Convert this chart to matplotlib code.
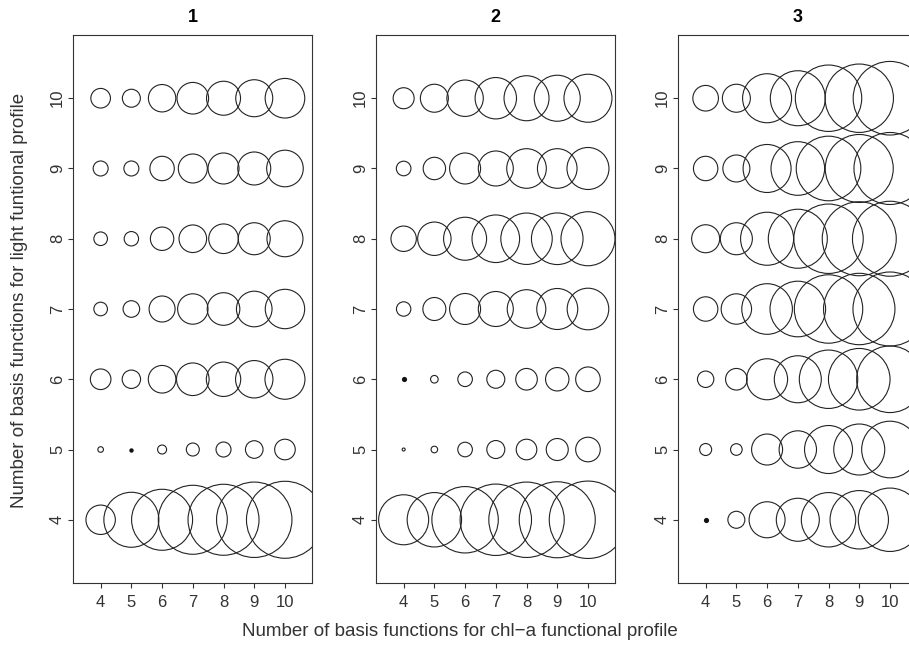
import matplotlib
matplotlib.use("Agg")
import matplotlib.pyplot as plt
import numpy as np

plt.rcParams['font.family'] = ['Liberation Sans', 'DejaVu Sans']

# numero de funciones base (chl-a en x, luz en y)
n_chla = [4, 5, 6, 7, 8, 9, 10]
n_light = [4, 5, 6, 7, 8, 9, 10]
panel_titles = ["1", "2", "3"]

# valor representado por el radio de cada circulo (filas: luz 4..10, columnas: chl-a 4..10)
panel1 = [
    [14.7, 27.5, 30.5, 34.5, 35.5, 37.7, 38.5],
    [2.8, 2.2, 4.5, 6.5, 7.5, 8.8, 10.3],
    [10.3, 9.2, 13.8, 16.3, 17.2, 18.7, 20.0],
    [6.8, 8.3, 13.0, 15.2, 16.3, 17.8, 19.7],
    [6.8, 7.2, 11.7, 13.8, 14.8, 16.0, 18.0],
    [7.5, 7.5, 12.2, 14.5, 15.5, 16.5, 18.3],
    [9.8, 9.0, 13.7, 15.8, 17.0, 18.5, 19.8],
]
panel2 = [
    [25.0, 27.2, 33.2, 35.7, 37.7, 38.0, 38.7],
    [1.5, 3.3, 7.3, 9.0, 10.3, 11.0, 12.3],
    [2.6, 3.8, 7.3, 9.0, 10.8, 11.7, 12.3],
    [7.2, 11.5, 15.5, 17.5, 19.3, 20.5, 20.8],
    [12.7, 16.7, 21.5, 23.8, 25.7, 25.8, 27.0],
    [7.3, 11.2, 15.5, 17.5, 19.8, 19.8, 21.0],
    [10.5, 14.0, 18.2, 20.7, 22.5, 23.0, 24.0],
]
panel3 = [
    [2.6, 8.5, 18.0, 21.5, 27.2, 29.2, 31.7],
    [6.0, 5.8, 15.5, 18.7, 24.0, 25.5, 28.3],
    [8.2, 10.8, 20.5, 23.5, 29.2, 30.8, 33.3],
    [12.2, 15.2, 25.3, 27.8, 34.2, 35.7, 37.0],
    [14.0, 16.0, 26.5, 29.5, 34.7, 37.0, 37.5],
    [12.2, 13.5, 24.0, 26.8, 32.3, 34.0, 36.0],
    [12.8, 14.0, 24.5, 27.5, 33.2, 34.2, 36.8],
]
# combinacion optima (punto relleno) en cada panel: (chl-a, luz)
best = [(5, 5), (4, 6), (4, 4)]

panels = [panel1, panel2, panel3]

fig = plt.figure(figsize=(9.09, 6.46), dpi=100)
W, H = 909.0, 646.0
lefts = [73, 376, 678]
aw = 239
top, bottom = 35, 583

for i, data in enumerate(panels):
    ax = fig.add_axes([lefts[i] / W, (H - bottom) / H, aw / W, (bottom - top) / H])
    xx, yy = np.meshgrid(n_chla, n_light)
    r = np.array(data)
    bx, by = best[i]
    mask = ~((xx == bx) & (yy == by))
    s = (2 * r * 0.72) ** 2
    ax.scatter(xx[mask], yy[mask], s=s[mask], facecolors='none',
               edgecolors='#222222', linewidths=0.8)
    rb = r[n_light.index(by), n_chla.index(bx)]
    ax.scatter([bx], [by], s=(2 * rb * 0.72) ** 2, color='#111111', linewidths=0)

    ax.set_xlim(3.1, 10.88)
    ax.set_ylim(3.1, 10.9)
    ax.set_xticks(n_chla)
    ax.set_yticks(n_light)
    ax.tick_params(axis='both', length=3.8, width=0.8, labelsize=12, color='#333333',
                   labelcolor='#333333')
    ax.tick_params(axis='x', pad=4.5)
    ax.tick_params(axis='y', pad=2)
    for lab in ax.get_yticklabels():
        lab.set_rotation(90)
        lab.set_va('center')
    for sp in ax.spines.values():
        sp.set_linewidth(0.8)
        sp.set_color('#333333')
    ax.set_title(panel_titles[i], fontsize=13, fontweight='bold', pad=9)

fig.text(20 / W, 1 - 300 / H, "Number of basis functions for light funtional profile",
         rotation=90, ha='center', va='center', fontsize=13.5, color='#333333')
fig.text(460 / W, 1 - 632 / H, "Number of basis functions for chl\u2212a functional profile",
         ha='center', va='center', fontsize=13.5, color='#333333')

fig.savefig("out.png", dpi=100)
